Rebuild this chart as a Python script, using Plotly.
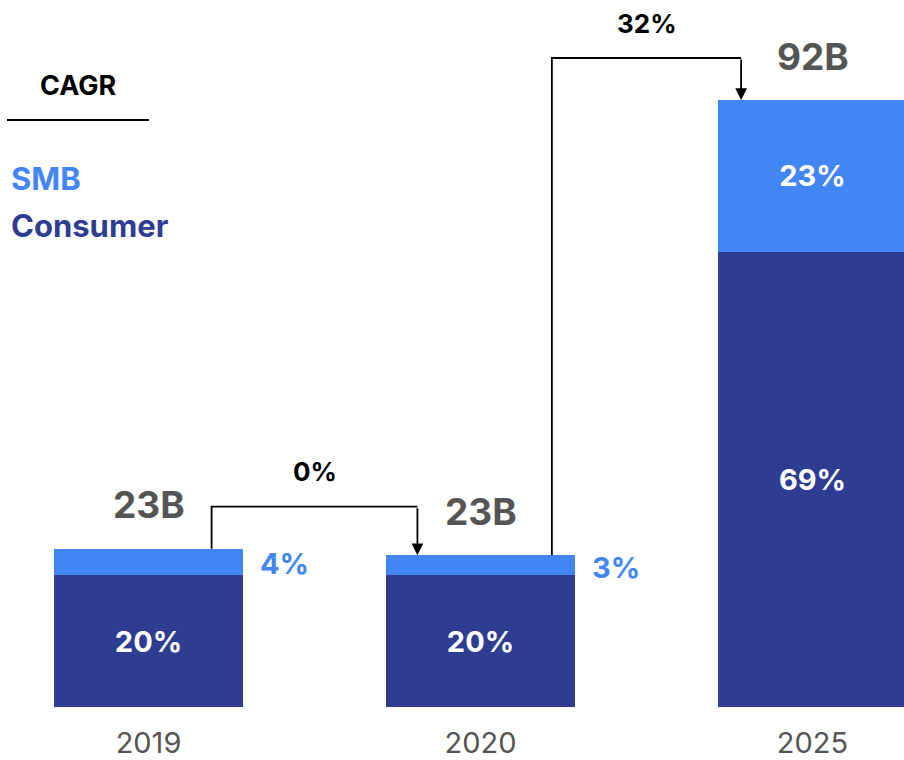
import plotly.graph_objects as go

# Market size by segment (shares shown as percentages)
years = ["2019", "2020", "2025"]
consumer = [20, 20, 69]
smb = [4, 3, 23]
consumer_labels = ["20%", "20%", "69%"]
smb_labels = ["4%", "3%", "23%"]
total_labels = ["23B", "23B", "92B"]
cagr_labels = ["0%", "32%"]

SMB_COLOR = "#4285F4"
CONSUMER_COLOR = "#2E3D92"
TOTAL_COLOR = "#555555"
FONT = "Inter"

W, H = 904, 760
PLOT_BOTTOM = 707          # pixel row of the baseline
TOP_PX = 100               # pixel row reached by the tallest bar

x = list(range(len(years)))
bar_w = 0.57
tops = [c + s for c, s in zip(consumer, smb)]
px_per_unit = (PLOT_BOTTOM - TOP_PX) / max(tops)
ymax = PLOT_BOTTOM / px_per_unit

fig = go.Figure()

fig.add_trace(go.Bar(
    x=x, y=consumer, width=bar_w, marker_color=CONSUMER_COLOR,
    marker_line_width=0, name="Consumer",
    text=consumer_labels, textposition="inside", insidetextanchor="middle",
    textfont=dict(family=FONT, size=29, color="white", weight="bold"),
    hoverinfo="skip",
))

# SMB labels fit inside only when the segment is tall enough
smb_inside = [lab if v >= 10 else "" for lab, v in zip(smb_labels, smb)]
fig.add_trace(go.Bar(
    x=x, y=smb, width=bar_w, marker_color=SMB_COLOR,
    marker_line_width=0, name="SMB",
    text=smb_inside, textposition="inside", insidetextanchor="middle",
    textfont=dict(family=FONT, size=29, color="white", weight="bold"),
    hoverinfo="skip",
))

annotations = []
shapes = []

# Small SMB segments get their label to the right of the bar
for xi, c, s, lab in zip(x, consumer, smb, smb_labels):
    if s < 10:
        annotations.append(dict(
            x=xi + bar_w / 2, y=c + s / 2, xref="x", yref="y",
            text=lab, showarrow=False, xanchor="left", yanchor="middle",
            xshift=15, yshift=-2,
            font=dict(family=FONT, size=29, color=SMB_COLOR, weight="bold"),
        ))

# Totals above each bar
for xi, t, lab in zip(x, tops, total_labels):
    annotations.append(dict(
        x=xi, y=t, xref="x", yref="y", text=lab, showarrow=False,
        xanchor="center", yanchor="middle", yshift=44,
        font=dict(family=FONT, size=37, color=TOTAL_COLOR, weight="bold"),
    ))

# Elbow connectors carrying the CAGR between consecutive bars
conn_dx = [0.19, 0.215]
rise = 42 / px_per_unit
for i, lab in enumerate(cagr_labels):
    xs = x[i] + conn_dx[i]
    xe = x[i + 1] - conn_dx[i]
    hy = max(tops[i], tops[i + 1]) + rise
    shapes.append(dict(
        type="path", xref="x", yref="y",
        path=f"M {xs},{tops[i]} L {xs},{hy} L {xe},{hy}",
        line=dict(color="black", width=1.8),
    ))
    annotations.append(dict(
        x=xe, y=tops[i + 1], ax=xe, ay=hy, xref="x", yref="y",
        axref="x", ayref="y", text="", showarrow=True,
        arrowhead=2, arrowsize=1.3, arrowwidth=1.8, arrowcolor="black",
        standoff=0,
    ))
    annotations.append(dict(
        x=(xs + xe) / 2, y=hy, xref="x", yref="y", text=lab,
        showarrow=False, xanchor="center", yanchor="middle", yshift=35,
        font=dict(family=FONT, size=26, color="black", weight="bold"),
    ))


def px_x(p):
    return p / W


def px_y(p):
    return (PLOT_BOTTOM - p) / PLOT_BOTTOM


# Key block in the upper left
annotations.append(dict(
    x=px_x(78), y=px_y(85), xref="paper", yref="paper", text="CAGR",
    showarrow=False, xanchor="center", yanchor="middle",
    font=dict(family=FONT, size=27, color="black", weight="bold"),
))
shapes.append(dict(
    type="line", xref="paper", yref="paper",
    x0=px_x(7), x1=px_x(149), y0=px_y(120), y1=px_y(120),
    line=dict(color="black", width=2),
))
annotations.append(dict(
    x=px_x(9), y=px_y(178), xref="paper", yref="paper", text="SMB",
    showarrow=False, xanchor="left", yanchor="middle",
    font=dict(family=FONT, size=31, color=SMB_COLOR, weight="bold"),
))
annotations.append(dict(
    x=px_x(9), y=px_y(225), xref="paper", yref="paper", text="Consumer",
    showarrow=False, xanchor="left", yanchor="middle",
    font=dict(family=FONT, size=31, color=CONSUMER_COLOR, weight="bold"),
))

x_left = -148.5 / 332
x_right = 2 + (W - 812.5) / 332

fig.update_layout(
    width=W, height=H, barmode="stack", showlegend=False,
    margin=dict(l=0, r=0, t=0, b=H - PLOT_BOTTOM, pad=0),
    plot_bgcolor="white", paper_bgcolor="white",
    annotations=annotations, shapes=shapes,
    font=dict(family=FONT),
    xaxis=dict(
        tickmode="array", tickvals=x, ticktext=years, range=[x_left, x_right],
        showgrid=False, zeroline=False, showline=False, ticks="",
        tickfont=dict(family=FONT, size=29, color=TOTAL_COLOR),
        ticklabelstandoff=16, fixedrange=True,
    ),
    yaxis=dict(range=[0, ymax], visible=False, fixedrange=True),
)

fig.write_html("out.html", config={"displayModeBar": False})
